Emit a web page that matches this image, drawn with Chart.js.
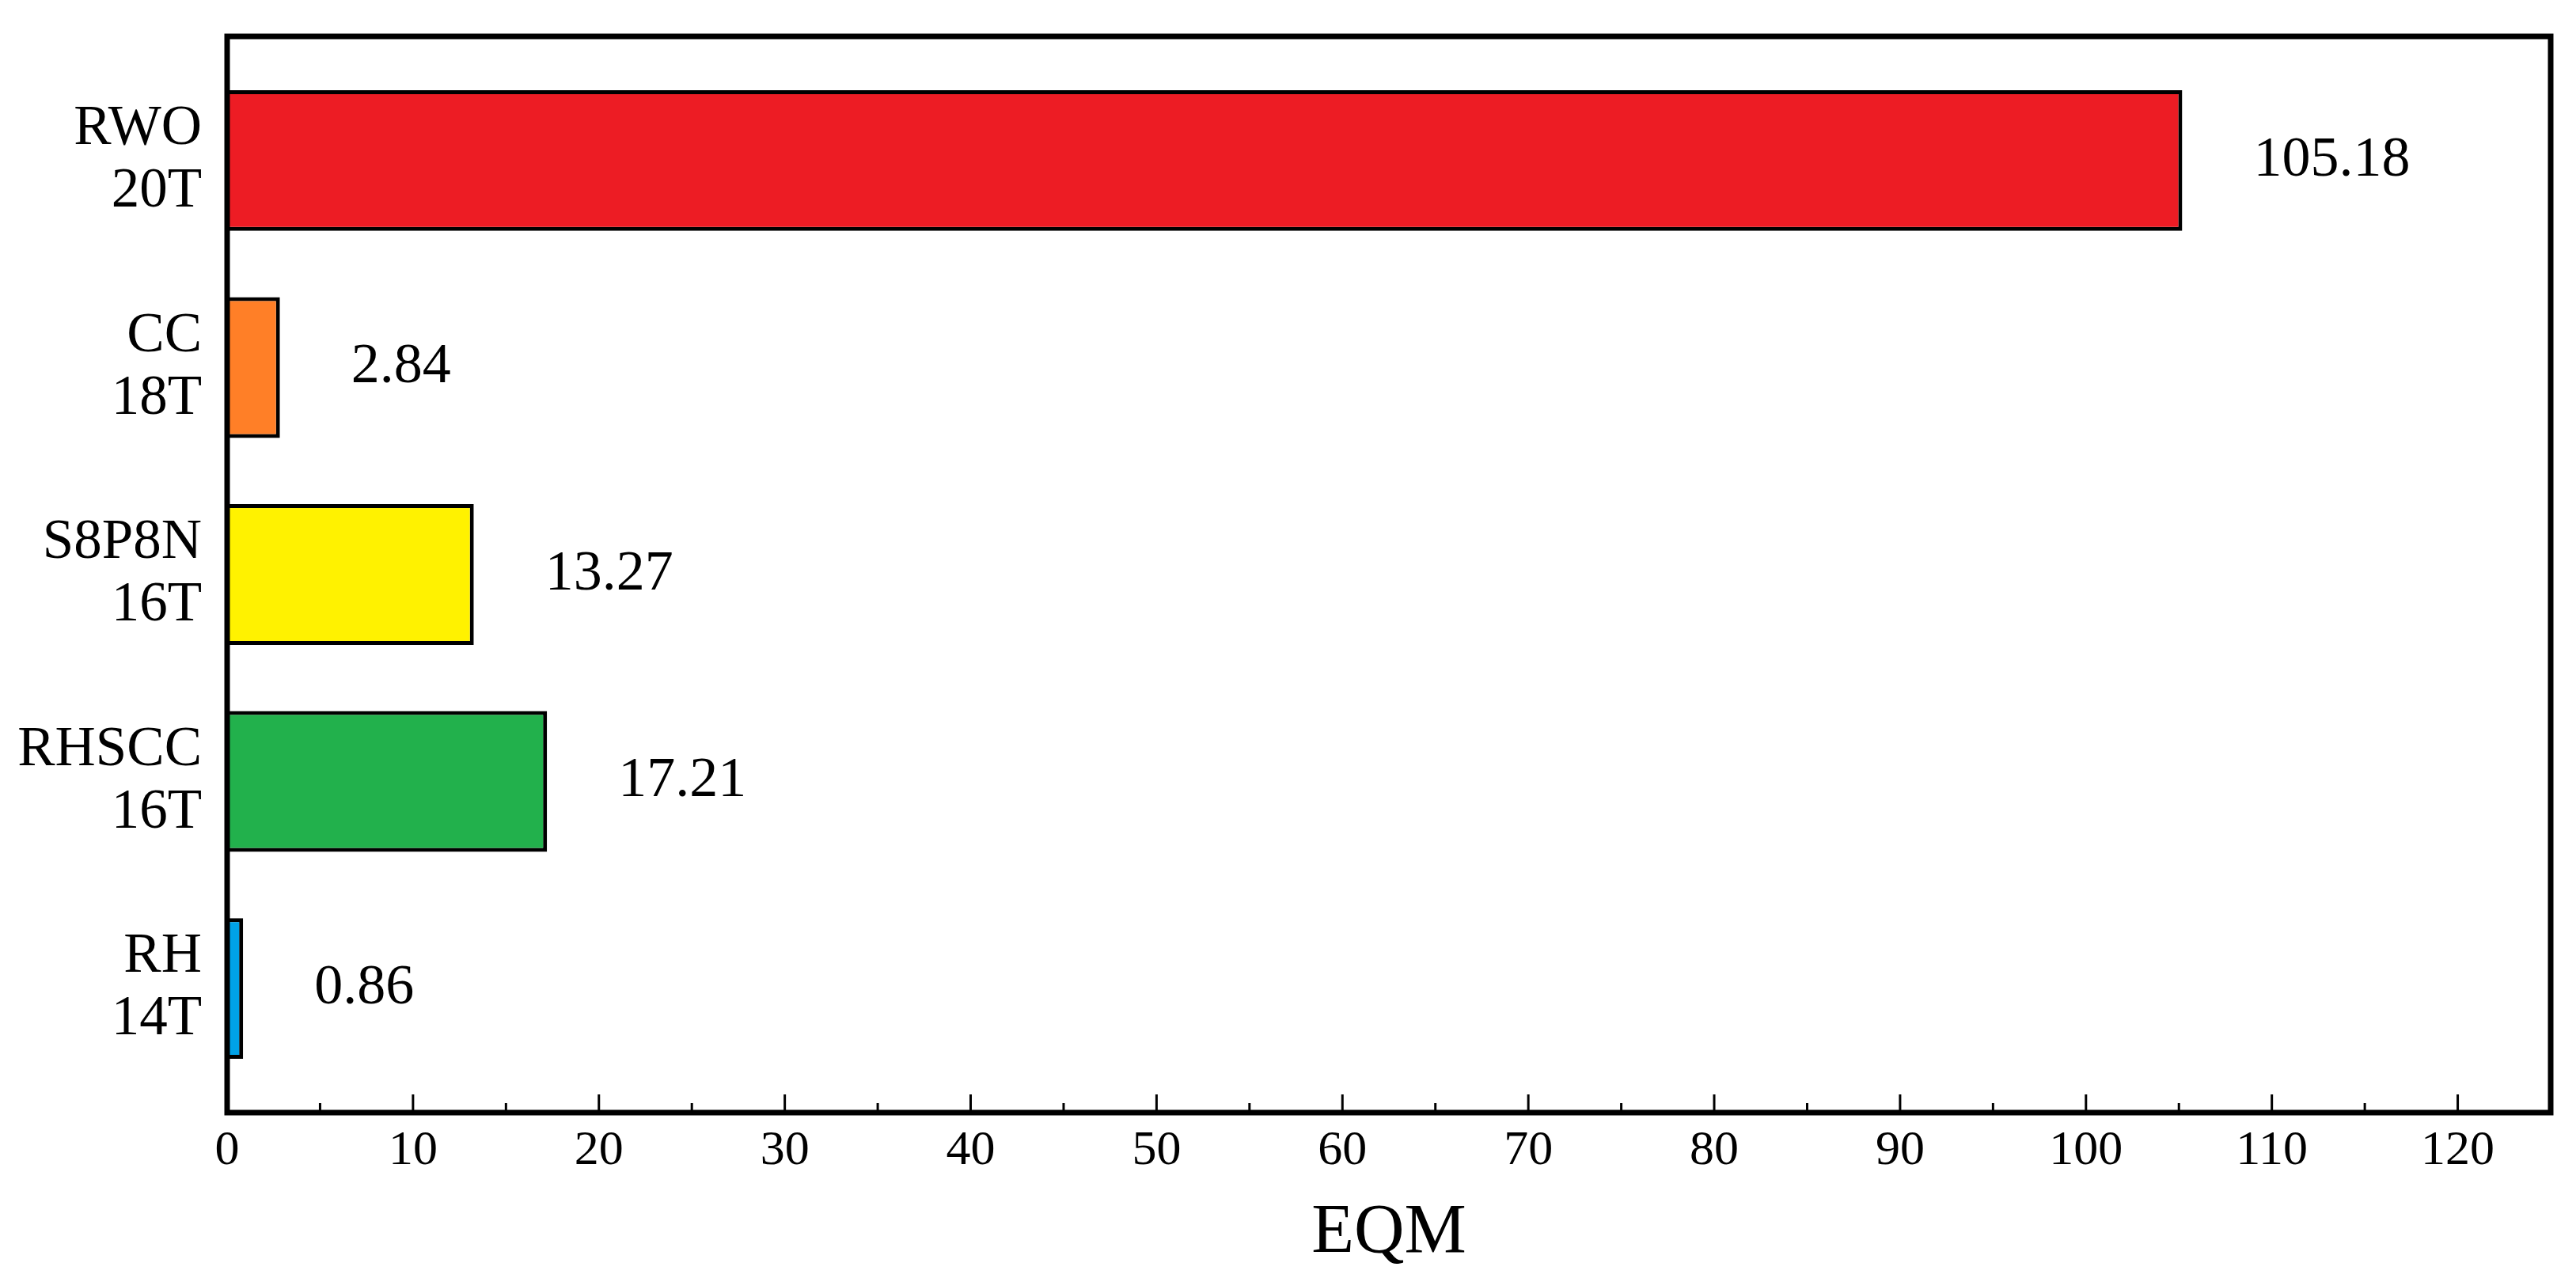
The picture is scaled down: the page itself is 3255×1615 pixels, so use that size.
<!DOCTYPE html>
<html>
<head>
<meta charset="utf-8">
<script src="https://cdn.jsdelivr.net/npm/chart.js@4"></script>
<style>
    body { margin: 0; background: #fff; }
    #wrap { width: 3255px; height: 1615px; }
</style>
</head>
<body>
<div id="wrap"><canvas id="eqmChart"></canvas></div>
<script>
// Catégories (de haut en bas) et valeurs EQM
var categories = [['RWO', '20T'], ['CC', '18T'], ['S8P8N', '16T'], ['RHSCC', '16T'], ['RH', '14T']];
var eqmValues = [105.18, 2.84, 13.27, 17.21, 0.86];
var valueLabels = ['105.18', '2.84', '13.27', '17.21', '0.86'];
var barColors = ['#ED1C24', '#FF7F27', '#FFF200', '#22B14C', '#00A2E8'];
var xTickValues = [0, 10, 20, 30, 40, 50, 60, 70, 80, 90, 100, 110, 120];

var serif = "'Liberation Serif', 'Times New Roman', serif";

// Points {x, y} : y = index de la catégorie
var points = eqmValues.map(function (v, i) { return { x: v, y: i }; });

// Cadre + petites graduations vers l'intérieur + valeurs à droite des barres
var framePlugin = {
    id: 'frame',
    afterDraw: function (chart) {
        var ctx = chart.ctx;
        var area = chart.chartArea;
        var xs = chart.scales.x;
        ctx.save();

        // graduations (majeures tous les 10, mineures à mi-chemin)
        ctx.strokeStyle = '#000';
        ctx.lineWidth = 3;
        xTickValues.forEach(function (v, i) {
            var px = xs.getPixelForValue(v);
            ctx.beginPath();
            ctx.moveTo(px, area.bottom);
            ctx.lineTo(px, area.bottom - 23);
            ctx.stroke();
            if (i < xTickValues.length - 1) {
                var mx = xs.getPixelForValue((v + xTickValues[i + 1]) / 2);
                ctx.beginPath();
                ctx.moveTo(mx, area.bottom);
                ctx.lineTo(mx, area.bottom - 12);
                ctx.stroke();
            }
        });

        // cadre
        ctx.lineWidth = 7;
        ctx.lineJoin = 'miter';
        ctx.strokeRect(area.left, area.top, area.right - area.left, area.bottom - area.top);

        // étiquettes de valeurs
        ctx.fillStyle = '#000';
        ctx.font = '72px ' + serif;
        ctx.textAlign = 'left';
        ctx.textBaseline = 'middle';
        chart.getDatasetMeta(0).data.forEach(function (bar, i) {
            ctx.fillText(valueLabels[i], bar.x + 90, bar.y);
        });
        ctx.restore();
    }
};

var eqmChart = new Chart(document.getElementById('eqmChart'), {
    type: 'bar',
    data: {
        datasets: [{
            data: points,
            backgroundColor: barColors,
            borderColor: '#000',
            borderWidth: 5,
            barPercentage: 0.68,
            categoryPercentage: 1.0
        }]
    },
    options: {
        indexAxis: 'y',
        responsive: true,
        maintainAspectRatio: false,
        devicePixelRatio: 1,
        animation: false,
        layout: {
            padding: { left: 0, right: 32, top: 46, bottom: 0 }
        },
        plugins: {
            legend: { display: false },
            tooltip: { enabled: false }
        },
        scales: {
            x: {
                type: 'linear',
                min: 0,
                max: 125,
                grid: { display: false, drawTicks: false },
                border: { display: false },
                afterBuildTicks: function (scale) {
                    scale.ticks = xTickValues.map(function (v) { return { value: v }; });
                },
                afterFit: function (scale) {
                    scale.height = 209;
                    scale.paddingLeft = 0;
                    scale.paddingRight = 0;
                },
                ticks: {
                    color: '#000',
                    padding: 12,
                    maxRotation: 0,
                    autoSkip: false,
                    font: { family: serif, size: 62 }
                },
                title: {
                    display: true,
                    text: 'EQM',
                    color: '#000',
                    padding: { top: 0, bottom: 3 },
                    font: { family: serif, size: 88 }
                }
            },
            y: {
                type: 'linear',
                min: -0.6,
                max: 4.6,
                reverse: true,
                offset: false,
                grid: { display: false, drawTicks: false, offset: false },
                border: { display: false },
                afterBuildTicks: function (scale) {
                    scale.ticks = categories.map(function (c, i) { return { value: i }; });
                },
                afterFit: function (scale) {
                    scale.width = 287;
                    scale.paddingTop = 0;
                    scale.paddingBottom = 0;
                },
                ticks: {
                    color: '#000',
                    padding: 32,
                    autoSkip: false,
                    font: { family: serif, size: 71, lineHeight: 1.11 },
                    callback: function (value) { return categories[value]; }
                }
            }
        }
    },
    plugins: [framePlugin]
});
</script>
</body>
</html>
